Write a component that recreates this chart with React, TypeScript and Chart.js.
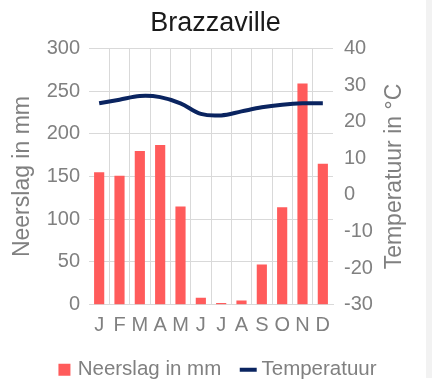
import React, { useEffect, useRef } from 'react';
import { Chart, registerables } from 'chart.js';

Chart.register(...registerables);

const months = ['J', 'F', 'M', 'A', 'M', 'J', 'J', 'A', 'S', 'O', 'N', 'D'];
const precipitation = [155, 151, 180, 187, 115, 8, 2, 5, 47, 114, 259, 165];
const temperature = [25.0, 26.0, 27.0, 26.7, 25.0, 22.1, 21.7, 22.8, 23.9, 24.6, 25.0, 25.0];

const precipMin = 0;
const precipMax = 300;
const precipStep = 50;
const tempMin = -30;
const tempMax = 40;
const tempStep = 10;

const TITLE = 'Brazzaville';
const PRECIP_LABEL = 'Neerslag in mm';
const TEMP_LABEL = 'Temperatuur';
const TEMP_AXIS_TITLE = 'Temperatuur in °C';

const FONT = '"Liberation Sans", Arial, Helvetica, sans-serif';
const GRAY = '#808080';
const GRID = '#d9d9d9';
const BAR = '#ff5b5b';
const LINE = '#0a2460';

const shiftPlugin = {
  id: 'shiftBoxes',
  afterLayout(chart: any) {
    const l = chart.legend;
    if (l) {
      l.left += 6;
      l.right += 6;
    }
    const t = chart.titleBlock;
    if (t) {
      t.left += 2.5;
      t.right += 2.5;
    }
  },
};

// Right-axis title, reading bottom-to-top like the left one
const rightTitlePlugin = {
  id: 'rightTitle',
  afterDraw(chart: any) {
    const s = chart.scales.y1;
    if (!s) return;
    const ctx = chart.ctx;
    ctx.save();
    ctx.translate(s.right - 31, (s.top + s.bottom) / 2);
    ctx.rotate(-Math.PI / 2);
    ctx.font = `23px ${FONT}`;
    ctx.fillStyle = GRAY;
    ctx.textAlign = 'center';
    ctx.textBaseline = 'middle';
    ctx.fillText(TEMP_AXIS_TITLE, 0, 0);
    ctx.restore();
  },
};

export default function App() {
  const ref = useRef<HTMLCanvasElement>(null);

  useEffect(() => {
    if (!ref.current) return;
    const chart = new Chart(ref.current, {
      data: {
        labels: months,
        datasets: [
          {
            type: 'bar',
            label: PRECIP_LABEL,
            data: precipitation,
            backgroundColor: BAR,
            borderWidth: 0,
            yAxisID: 'y',
            order: 2,
            barPercentage: 0.5,
            categoryPercentage: 1.0,
            pointStyle: 'rect',
          } as any,
          {
            type: 'line',
            label: TEMP_LABEL,
            data: temperature,
            borderColor: LINE,
            backgroundColor: LINE,
            borderWidth: 4,
            pointRadius: 0,
            tension: 0.35,
            yAxisID: 'y1',
            order: 1,
            pointStyle: 'line',
          } as any,
        ],
      },
      options: {
        responsive: false,
        animation: false,
        layout: { padding: 0 },
        plugins: {
          title: {
            display: true,
            text: TITLE,
            color: '#1a1a1a',
            font: { family: FONT, size: 27, weight: 'normal' },
            padding: { top: 7, bottom: 9 },
          },
          legend: {
            position: 'bottom',
            labels: {
              usePointStyle: true,
              boxWidth: 6,
              boxHeight: 12,
              padding: 24,
              color: GRAY,
              font: { family: FONT, size: 20.5 },
              sort: (a: any, b: any) => a.datasetIndex - b.datasetIndex,
            },
          },
          tooltip: { enabled: false },
        },
        scales: {
          x: {
            grid: {
              color: (ctx: any) =>
                ctx.index === undefined || ctx.index === 0 ? 'rgba(0,0,0,0)' : GRID,
              drawTicks: false,
              offset: true,
            },
            border: { display: true, color: GRID },
            ticks: { color: GRAY, font: { family: FONT, size: 20 }, padding: 9, maxRotation: 0, autoSkip: false },
            afterFit: (s: any) => {
              s.height = 30.8;
            },
          },
          y: {
            position: 'left',
            min: precipMin,
            max: precipMax,
            ticks: { stepSize: precipStep, color: GRAY, font: { family: FONT, size: 20 }, padding: 9 },
            grid: { color: GRID, drawTicks: false },
            border: { display: false },
            title: {
              display: true,
              text: PRECIP_LABEL,
              color: GRAY,
              font: { family: FONT, size: 23 },
              padding: { top: 9, bottom: 0 },
            },
            afterFit: (s: any) => {
              s.width = 89;
            },
          },
          y1: {
            position: 'right',
            min: tempMin,
            max: tempMax,
            ticks: { stepSize: tempStep, color: GRAY, font: { family: FONT, size: 20 }, padding: 11 },
            grid: { drawOnChartArea: false, drawTicks: false },
            border: { display: false },
            title: { display: false },
            afterFit: (s: any) => {
              s.width = 93;
            },
          },
        },
      } as any,
      plugins: [shiftPlugin, rightTitlePlugin],
    });
    return () => chart.destroy();
  }, []);

  return (
    <div style={{ position: 'fixed', left: 0, top: 0, width: 432, height: 390, background: '#ffffff' }}>
      <canvas ref={ref} width={426} height={390} style={{ position: 'absolute', left: 0, top: 0, width: 426, height: 390 }} />
      <div style={{ position: 'absolute', left: 426, top: 0, width: 6, height: 378, background: '#f2f2f2' }} />
    </div>
  );
}
